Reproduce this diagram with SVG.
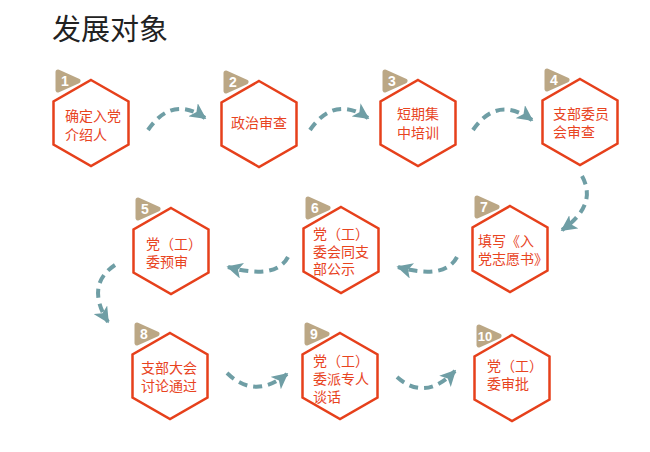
<svg xmlns="http://www.w3.org/2000/svg" width="650" height="452" viewBox="0 0 650 452">
<defs>
<style>
.hex{fill:#fff;stroke:#e6401b;stroke-width:2.5;stroke-linejoin:miter}
.badge{fill:#bba785;stroke:#bba785;stroke-width:5;stroke-linejoin:round}
.num{fill:#fff;font-family:"Liberation Sans",Arial,sans-serif;font-size:14px;font-weight:bold;text-anchor:middle}
.lbl{fill:#e8441f;font-family:"Noto Sans CJK SC","Noto Sans",sans-serif;font-size:14px}
.mid{text-anchor:middle}
.title{fill:#222;font-family:"Noto Sans CJK SC","Noto Sans",sans-serif;font-size:29px}
.con{fill:none;stroke:#6f9ea5;stroke-width:4;stroke-dasharray:9 6}
</style>
<marker id="ah" viewBox="0 0 10 10" refX="9" refY="5" markerWidth="4" markerHeight="4" orient="auto" markerUnits="strokeWidth">
<path d="M0,0 L10,5 L0,10 L2.5,5 z" fill="#6f9ea5"/>
</marker>
</defs>
<rect width="650" height="452" fill="#fff"/>
<text class="title" x="52" y="40">发展对象</text>

<g id="connectors">
<path class="con" marker-end="url(#ah)" d="M148,130 Q172,95 205,118"/>
<path class="con" marker-end="url(#ah)" d="M310,130 Q334,95 368,118"/>
<path class="con" marker-end="url(#ah)" d="M473,130 Q497,95 532,120"/>
<path class="con" marker-end="url(#ah)" d="M582,176 Q598,205 562,230"/>
<path class="con" marker-end="url(#ah)" d="M457,257 Q445,280 398,267"/>
<path class="con" marker-end="url(#ah)" d="M288,257 Q276,280 228,267"/>
<path class="con" marker-end="url(#ah)" d="M115,265 Q85,285 108,322"/>
<path class="con" marker-end="url(#ah)" d="M227,373 Q255,400 287,374"/>
<path class="con" marker-end="url(#ah)" d="M397,377 Q425,402 455,371"/>
</g>

<g id="n1" transform="translate(91,123)">
<polygon class="badge" points="-33,-51 -13,-42 -33,-33"/>
<text class="num" x="-26" y="-37">1</text>
<polygon class="hex" points="0,-43 37.5,-21.5 37.5,21.5 0,43 -37.5,21.5 -37.5,-21.5"/>
<text class="lbl" x="-26" y="-2">确定入党</text>
<text class="lbl" x="-26" y="16.5">介绍人</text>
</g>
<g id="n2" transform="translate(259,124)">
<polygon class="badge" points="-33,-51 -13,-42 -33,-33"/>
<text class="num" x="-26" y="-37">2</text>
<polygon class="hex" points="0,-43 37.5,-21.5 37.5,21.5 0,43 -37.5,21.5 -37.5,-21.5"/>
<text class="lbl mid" x="0" y="3.5">政治审查</text>
</g>
<g id="n3" transform="translate(418,123)">
<polygon class="badge" points="-33,-51 -13,-42 -33,-33"/>
<text class="num" x="-26" y="-37">3</text>
<polygon class="hex" points="0,-43 37.5,-21.5 37.5,21.5 0,43 -37.5,21.5 -37.5,-21.5"/>
<text class="lbl mid" x="0" y="-4.5">短期集</text>
<text class="lbl mid" x="0" y="14.5">中培训</text>
</g>
<g id="n4" transform="translate(580,122)">
<polygon class="badge" points="-33,-51 -13,-42 -33,-33"/>
<text class="num" x="-26" y="-37">4</text>
<polygon class="hex" points="0,-43 37.5,-21.5 37.5,21.5 0,43 -37.5,21.5 -37.5,-21.5"/>
<text class="lbl" x="-27" y="-3.5">支部委员</text>
<text class="lbl" x="-27" y="14.5">会审查</text>
</g>
<g id="n5" transform="translate(171,251)">
<polygon class="badge" points="-33,-51 -13,-42 -33,-33"/>
<text class="num" x="-26" y="-37">5</text>
<polygon class="hex" points="0,-43 37.5,-21.5 37.5,21.5 0,43 -37.5,21.5 -37.5,-21.5"/>
<text class="lbl" x="-25" y="-2">党（工）</text>
<text class="lbl" x="-25" y="16">委预审</text>
</g>
<g id="n6" transform="translate(341,250)">
<polygon class="badge" points="-33,-51 -13,-42 -33,-33"/>
<text class="num" x="-26" y="-37">6</text>
<polygon class="hex" points="0,-43 37.5,-21.5 37.5,21.5 0,43 -37.5,21.5 -37.5,-21.5"/>
<text class="lbl" x="-28" y="-11.5">党（工）</text>
<text class="lbl" x="-28" y="6.5">委会同支</text>
<text class="lbl" x="-28" y="24">部公示</text>
</g>
<g id="n7" transform="translate(510,249)">
<polygon class="badge" points="-33,-51 -13,-42 -33,-33"/>
<text class="num" x="-26" y="-37">7</text>
<polygon class="hex" points="0,-43 37.5,-21.5 37.5,21.5 0,43 -37.5,21.5 -37.5,-21.5"/>
<text class="lbl" x="-32" y="-3.5">填写《入</text>
<text class="lbl" x="-32" y="14.5">党志愿书》</text>
</g>
<g id="n8" transform="translate(170,376)">
<polygon class="badge" points="-33,-51 -13,-42 -33,-33"/>
<text class="num" x="-26" y="-37">8</text>
<polygon class="hex" points="0,-43 37.5,-21.5 37.5,21.5 0,43 -37.5,21.5 -37.5,-21.5"/>
<text class="lbl" x="-29" y="-3.5">支部大会</text>
<text class="lbl" x="-29" y="14.5">讨论通过</text>
</g>
<g id="n9" transform="translate(340,376)">
<polygon class="badge" points="-33,-51 -13,-42 -33,-33"/>
<text class="num" x="-26" y="-37">9</text>
<polygon class="hex" points="0,-43 37.5,-21.5 37.5,21.5 0,43 -37.5,21.5 -37.5,-21.5"/>
<text class="lbl" x="-27" y="-10.5">党（工）</text>
<text class="lbl" x="-27" y="7.5">委派专人</text>
<text class="lbl" x="-27" y="25.5">谈话</text>
</g>
<g id="n10" transform="translate(512,378)">
<polygon class="badge" points="-33,-51 -13,-42 -33,-33"/>
<text class="num" x="-27" y="-37" style="font-size:13px">10</text>
<polygon class="hex" points="0,-43 37.5,-21.5 37.5,21.5 0,43 -37.5,21.5 -37.5,-21.5"/>
<text class="lbl" x="-25" y="-7.5">党（工）</text>
<text class="lbl" x="-25" y="10.5">委审批</text>
</g>
</svg>
